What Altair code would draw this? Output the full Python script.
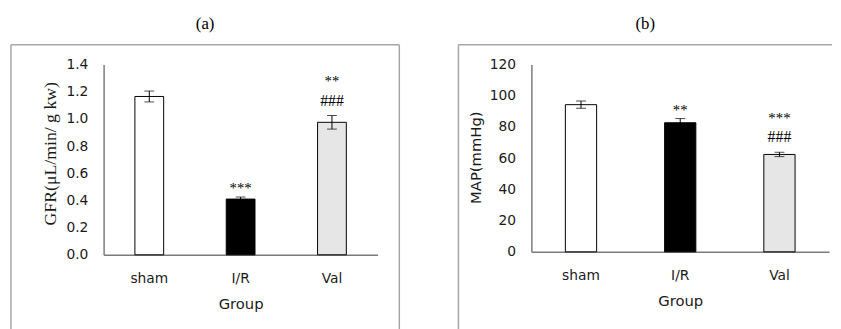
import altair as alt
import pandas as pd

groups = ["sham", "I/R", "Val"]
fills = ["#ffffff", "#000000", "#e6e6e6"]

gfr_mean = [1.165, 0.41, 0.975]
gfr_err = [0.04, 0.015, 0.05]
gfr_stars = ["", "***", "**"]
gfr_hash = ["", "", "###"]
gfr_ticks = [0.0, 0.2, 0.4, 0.6, 0.8, 1.0, 1.2, 1.4]

map_mean = [94.3, 82.7, 62.4]
map_err = [2.3, 2.7, 1.4]
map_stars = ["", "**", "***"]
map_hash = ["", "", "###"]
map_ticks = [0, 20, 40, 60, 80, 100, 120]

SANS = "DejaVu Sans"
SERIF = "Liberation Serif"
TXT = "#1a1a1a"
AXIS_C = "#7a7a7a"
FRAME_C = "#a6a6a6"


def panel(mean, err, stars, hashes, ticks, fmt, title, ytitle, ytfont, ytsize,
          ytpad, ytitle_y, W, H, ax_x, x_end, y0, y1, right_edge):
    df = pd.DataFrame({"group": groups, "value": mean, "err": err,
                       "star": stars, "hash": hashes})
    df["lo"] = df["value"] - df["err"]
    df["hi"] = df["value"] + df["err"]

    xs = alt.Scale(domain=groups, range=[ax_x, x_end],
                   paddingInner=0.685, paddingOuter=0.3425)
    xa = alt.Axis(title="Group", offset=-(H - y0), labelAngle=0, ticks=False,
                  tickSize=0, labelPadding=17, titlePadding=11, grid=False,
                  domainColor=AXIS_C, domainWidth=1.5,
                  labelFont=SANS, labelFontSize=14, labelColor=TXT,
                  titleFont=SANS, titleFontSize=15, titleFontWeight="normal",
                  titleColor=TXT)
    ys = alt.Scale(domain=[ticks[0], ticks[-1]], range=[y0, y1], nice=False)
    ya = alt.Axis(title=ytitle, offset=-ax_x, values=ticks, format=fmt,
                  ticks=False, tickSize=0, grid=False, labelPadding=16,
                  titlePadding=ytpad, titleY=ytitle_y,
                  domainColor=AXIS_C, domainWidth=1.5,
                  labelFont=SANS, labelFontSize=14, labelColor=TXT,
                  titleFont=ytfont, titleFontSize=ytsize,
                  titleFontWeight="normal", titleColor=TXT)

    X = alt.X("group:N", sort=groups, scale=xs, axis=xa)

    def Y(f):
        return alt.Y(f"{f}:Q", scale=ys, axis=ya)

    base = alt.Chart(df)
    bars = base.mark_bar(stroke="black", strokeWidth=1).encode(
        x=X, y=Y("value"),
        color=alt.Color("group:N", scale=alt.Scale(domain=groups, range=fills),
                        legend=None))
    eb = base.mark_rule(color="black", strokeWidth=1).encode(
        x=X, y=Y("lo"), y2="hi")
    cap_hi = base.mark_tick(color="black", thickness=1, size=10).encode(
        x=X, y=Y("hi"))
    cap_lo = base.mark_tick(color="black", thickness=1, size=10).encode(
        x=X, y=Y("lo"))
    txt = dict(font=SERIF, baseline="middle", fill="black")
    star_plain = base.transform_filter("datum.star != '' && datum.hash == ''").mark_text(
        fontSize=15, dy=-9, **txt).encode(x=X, y=Y("hi"), text="star:N")
    star_top = base.transform_filter("datum.hash != ''").mark_text(
        fontSize=15, dy=-35, **txt).encode(x=X, y=Y("hi"), text="star:N")
    hash_t = base.transform_filter("datum.hash != ''").mark_text(
        fontSize=16, dy=-15, **txt).encode(x=X, y=Y("hi"), text="hash:N")

    one = alt.Data(values=[{"k": 1}])
    fr = dict(color=FRAME_C, strokeWidth=1.5)
    layers = [bars, eb, cap_hi, cap_lo, star_plain, star_top, hash_t,
              alt.Chart(one).mark_rule(**fr).encode(
                  x=alt.value(0), x2=alt.value(W), y=alt.value(0)),
              alt.Chart(one).mark_rule(**fr).encode(
                  x=alt.value(0), y=alt.value(0), y2=alt.value(H))]
    if right_edge:
        layers.append(alt.Chart(one).mark_rule(**fr).encode(
            x=alt.value(W), y=alt.value(0), y2=alt.value(H)))

    return alt.layer(*layers).properties(
        width=W, height=H,
        title=alt.TitleParams(title, font=SERIF, fontSize=17,
                              fontWeight="normal", anchor="middle",
                              baseline="bottom", offset=-6, color="black"))


pa = panel(gfr_mean, gfr_err, gfr_stars, gfr_hash, gfr_ticks, ".1f", "(a)",
           "GFR(μL/min/ g kw)", SERIF, 18, 7, 110, 394, 290, 94, 372, 213, 20,
           True)
pb = panel(map_mean, map_err, map_stars, map_hash, map_ticks, "d", "(b)",
           "MAP(mmHg)", SANS, 15, 6, 114, 379, 290, 74, 376, 210, 20, False)

chart = alt.hconcat(pa, pb, spacing=58).resolve_scale(
    x="independent", y="independent", color="independent").properties(
    padding={"left": 2, "top": 5, "right": 0, "bottom": 0}
).configure_view(stroke=None)

chart.save("out.html", embed_options={"renderer": "svg", "actions": False})
